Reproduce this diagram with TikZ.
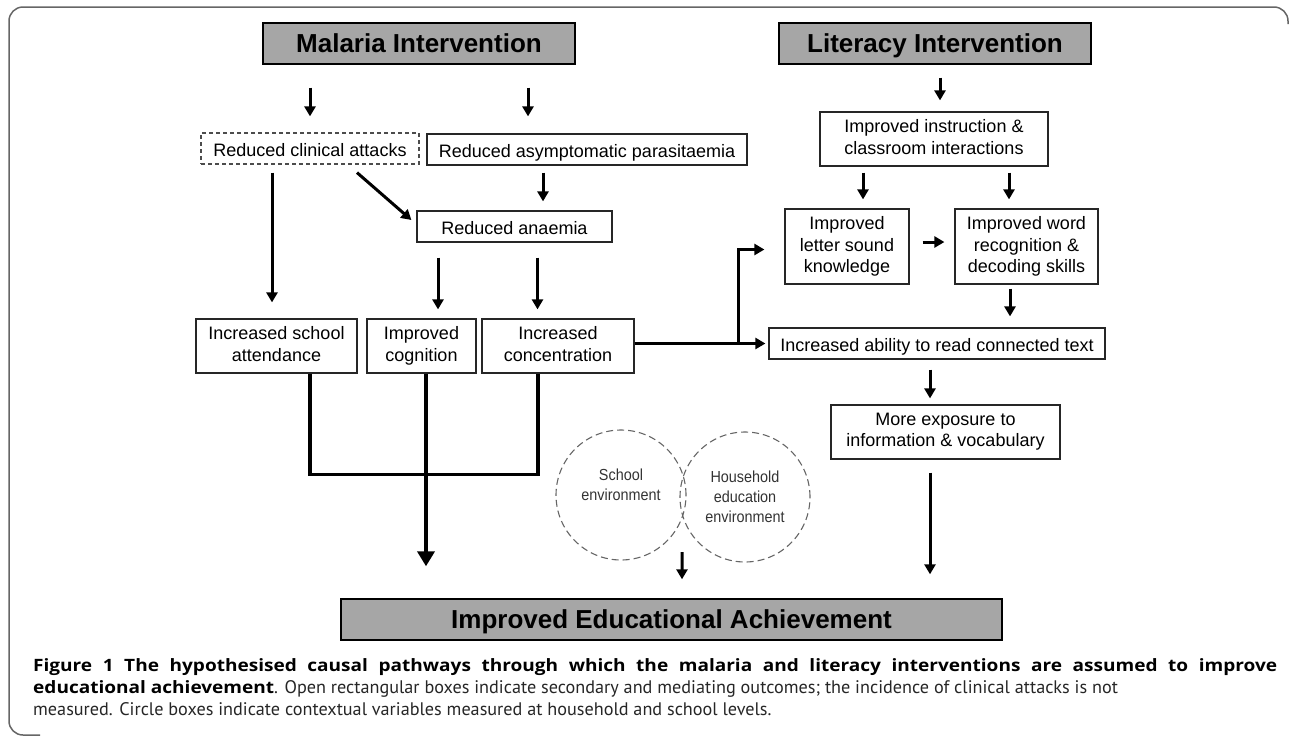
\documentclass[tikz,border=0pt]{standalone}
\usepackage{fontspec}
\setmainfont{Liberation Sans}
\newfontfamily\capfont{PT Sans}
\newfontfamily\capbf[FakeStretch=1.12]{Open Sans}
\newfontfamily\ctxfont[FakeStretch=0.9]{Liberation Sans}
\usetikzlibrary{calc,arrows.meta}
\definecolor{hdrgray}{RGB}{166,166,166}

\begin{document}
\begin{tikzpicture}[x=1pt,y=-1pt,
    hdr/.style={draw, line width=1.4pt, fill=hdrgray, inner sep=0pt,
      minimum width=312pt, minimum height=41pt, text height=23.6pt, text depth=5pt,
      font=\fontsize{26}{30}\selectfont\bfseries},
    outc/.style={draw=black!85, line width=1.2pt, inner sep=0pt, align=center,
      execute at begin node={\rule{0pt}{20pt}}, execute at end node={\rule[-4pt]{0pt}{4pt}},
      font=\fontsize{18}{21.5}\selectfont},
    ctx/.style={circle, draw=black!60, line width=1.1pt, dash pattern=on 7pt off 4pt,
      minimum size=130pt, inner sep=0pt, align=center, text=black!80,
      font=\ctxfont\fontsize{16}{20}\selectfont},
    arr/.style={line width=3pt, -{Triangle[length=10pt,width=11pt]}},
    link/.style={line width=3.5pt},
    capline/.style={anchor=base west, inner sep=0pt, font=\capfont\fontsize{18.2}{22}\selectfont}]
  \useasboundingbox (0,0) rectangle (1290,737);

  %% Frame round the figure
  \draw[black!60, line width=1.5pt, rounded corners=14pt]
    (1288,24) |- (9,7) -- (9,735) -- (40,735);

  %% Interventions and final outcome
  \node[hdr] (mal) at (419,43.5) {Malaria Intervention};
  \node[hdr] (lit) at (935,43.5) {Literacy Intervention};
  \node[hdr, minimum width=661pt] (iea) at (671.5,619.5) {Improved Educational Achievement};

  %% Malaria pathway
  \node[outc, draw=black!70, dash pattern=on 4pt off 3pt, minimum width=218pt, minimum height=31pt]
    (rca) at (310,148.5) {Reduced clinical attacks};
  \node[outc, minimum width=320pt, minimum height=31pt] (rap) at (587,149.5) {Reduced asymptomatic parasitaemia};
  \node[outc, minimum width=195pt, minimum height=31pt] (ran) at (514.5,226.5) {Reduced anaemia};
  \node[outc, minimum width=161pt, minimum height=54pt] (isa) at (276.5,346) {Increased school\\attendance};
  \node[outc, minimum width=109pt, minimum height=54pt] (icog) at (421.5,346) {Improved\\cognition};
  \node[outc, minimum width=152pt, minimum height=54pt] (icon) at (558,346) {Increased\\concentration};

  %% Literacy pathway
  \node[outc, minimum width=228pt, minimum height=54pt] (iic) at (934,139) {Improved instruction \&\\classroom interactions};
  \node[outc, minimum width=124pt, minimum height=75pt] (ilsk) at (847,246.5) {Improved\\letter sound\\knowledge};
  \node[outc, minimum width=143pt, minimum height=75pt] (iwr) at (1026.5,246.5) {Improved word\\recognition \&\\decoding skills};
  \node[outc, minimum width=336pt, minimum height=31pt] (iar) at (937,343.5) {Increased ability to read connected text};
  \node[outc, minimum width=229pt, minimum height=54pt] (mei) at (945.5,432) {More exposure to\\information \& vocabulary};

  %% Context
  \node[ctx] (sch) at (621,495) {School\\environment\\~};
  \node[ctx] (hh) at (745,497) {Household\\education\\environment};

  %% Arrows
  \draw[arr] ($(mal.south)+(-109,23)$) -- ($(rca.north)+(0,-16)$);
  \draw[arr] ($(mal.south)+(109,23)$) -- ($(rap.north)+(-59,-17)$);
  \draw[arr] ($(rap.south)+(-44,7)$) -- ($(ran.north)+(28.5,-9)$);
  \draw[arr] ($(rca.south)+(47,8)$) -- ($(ran.west)+(-5,-6.5)$);
  \draw[arr] ($(rca.south)+(-38,8)$) -- ($(isa.north)+(-4.5,-16)$);
  \draw[arr] ($(ran.south)+(-76.5,15)$) -- ($(icog.north)+(16.5,-9)$);
  \draw[arr] ($(ran.south)+(23,15)$) -- ($(icon.north)+(-20.5,-9)$);

  \draw[arr] ($(lit.south)+(5,13)$) -- ($(iic.north)+(6,-11)$);
  \draw[arr] ($(iic.south)+(-71,6)$) -- ($(ilsk.north)+(16,-9)$);
  \draw[arr] ($(iic.south)+(75,6)$) -- ($(iwr.north)+(-17.5,-9)$);
  \draw[arr] ($(ilsk.east)+(13,-4.5)$) -- ($(iwr.west)+(-10,-4.5)$);
  \draw[arr] ($(iwr.south)+(-16.5,4)$) -- ($(iar.north)+(73,-11)$);
  \draw[arr] ($(iar.south)+(-7,10)$) -- ($(mei.north)+(-15.5,-6)$);
  \draw[arr] ($(mei.south)+(-15.5,13)$) -- ($(iea.north -| mei.south)+(-15.5,-24)$);

  %% Concentration feeds the literacy side
  \draw[arr, line width=3.5pt] (icon.east |- iar.west) -- ($(iar.west)+(-3,0)$);
  \draw[arr, line width=3.5pt] ($(icon.east |- iar.west)+(104,0)$) |- ($(ilsk.west)+(-20,3)$);

  %% Joining the three malaria outcomes
  \draw[link] ($(isa.south)+(33.5,0)$) |- ($(icon.south)+(-20,101)$) -- ($(icon.south)+(-20,0)$);
  \draw[line width=4.5pt, -{Triangle[length=15pt,width=17pt]}]
    ($(icog.south)+(4.5,0)$) -- ($(iea.north)+(-245.5,-32)$);

  \draw[arr] ($(sch.east)!.5!(hh.west)+(-1,56)$) -- ($(iea.north)+(10.5,-19)$);

  %% Caption
  \node[capline] (cap1) at (33,671) {\capbf\bfseries\fontsize{17}{22}\selectfont\makebox[1244pt][s]{Figure 1 The hypothesised causal pathways through which the malaria and literacy interventions are assumed to improve}};
  \node[capline, text=black!85] (cap2) at (33,693) {{\capbf\bfseries\fontsize{17}{22}\selectfont\color{black}educational achievement}. Open rectangular boxes indicate secondary and mediating outcomes; the incidence of clinical attacks is not};
  \node[capline, text=black!85] (cap3) at (33,715) {measured. Circle boxes indicate contextual variables measured at household and school levels.};
\end{tikzpicture}
\end{document}
